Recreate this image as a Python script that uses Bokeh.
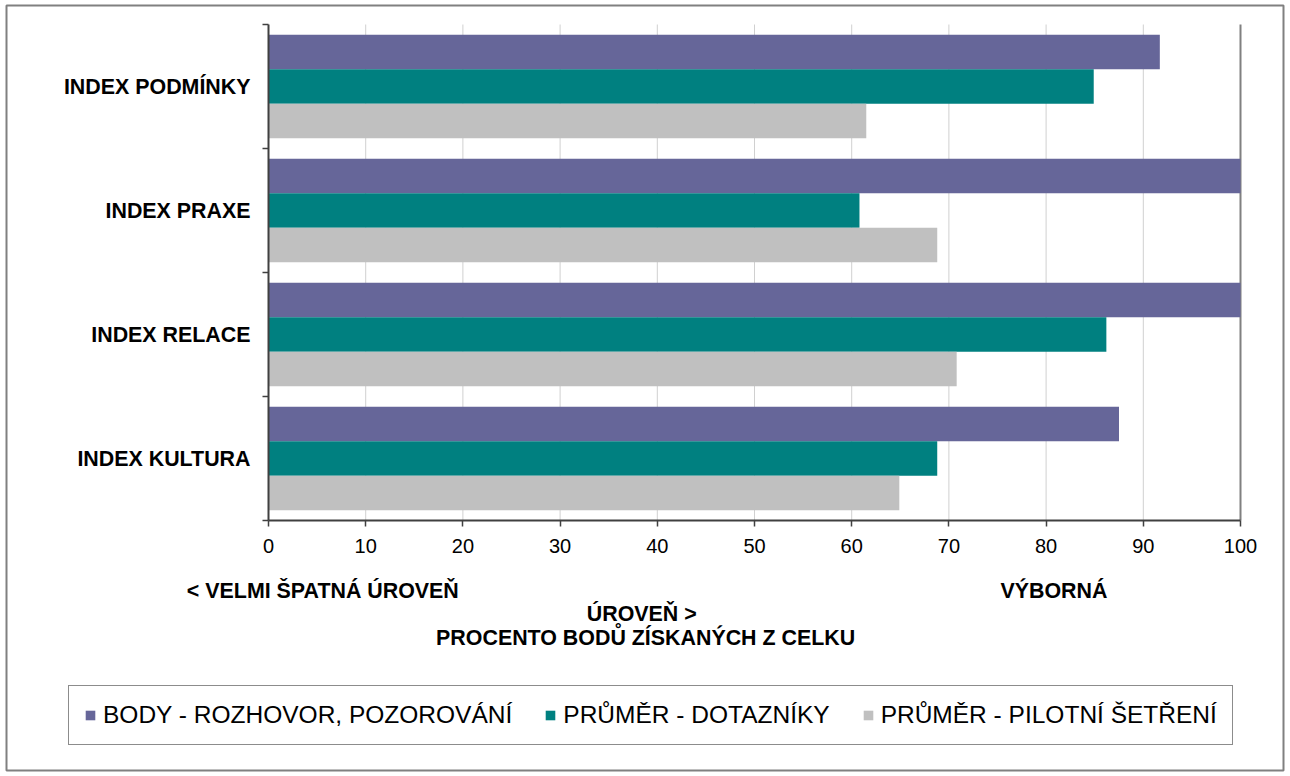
from bokeh.plotting import figure
from bokeh.models import ColumnDataSource, Range1d, FixedTicker, Label, Legend, LegendItem
from bokeh.embed import file_html
from bokeh.resources import INLINE

# ---------------- data ----------------
categories = ["INDEX PODMÍNKY", "INDEX PRAXE", "INDEX RELACE", "INDEX KULTURA"]
series_names = ["BODY - ROZHOVOR, POZOROVÁNÍ", "PRŮMĚR - DOTAZNÍKY", "PRŮMĚR - PILOTNÍ ŠETŘENÍ"]
body_rozhovor = [91.7, 100.0, 100.0, 87.5]
prumer_dotazniky = [84.9, 60.8, 86.2, 68.8]
prumer_pilotni = [61.5, 68.8, 70.8, 64.9]
x_ticks = [0, 10, 20, 30, 40, 50, 60, 70, 80, 90, 100]
axis_note_left = "< VELMI ŠPATNÁ ÚROVEŇ"
axis_note_right = "VÝBORNÁ"
axis_note_mid = "ÚROVEŇ >"
axis_title = "PROCENTO BODŮ ZÍSKANÝCH Z CELKU"

# ---------------- styles / layout ----------------
FONT = "Liberation Sans"
BOLD_SIZE = "21.4px"
colors = ["#666699", "#008080", "#C0C0C0"]
W, H = 1290, 776
n = len(categories)

# frame covers the whole chart box; value axis 0..100 spans px 268..1240,
# category axis spans px 24..520 (124 px per category)
px_per_x = 9.72
px_per_y = 124.0
x_start = (6 - 268) / px_per_x
x_end = (1283 - 268) / px_per_x
y_end = n + (24 - 5) / px_per_y
y_start = -(770 - 520) / px_per_y

p = figure(width=W, height=H, output_backend="svg", toolbar_location=None,
           x_range=Range1d(x_start, x_end), y_range=Range1d(y_start, y_end),
           min_border_left=6, min_border_right=7, min_border_top=5, min_border_bottom=6)
p.outline_line_color = "#808080"
p.outline_line_width = 2
p.background_fill_color = "white"
p.border_fill_color = "white"
p.xgrid.visible = False
p.ygrid.visible = False

# vertical gridlines limited to the plotting area
grid_src = ColumnDataSource(dict(x=x_ticks[1:-1]))
p.segment(x0="x", y0=0, x1="x", y1=n, source=grid_src, line_color="#d0d0d0", line_width=1)
edge_src = ColumnDataSource(dict(x=x_ticks[-1:]))
p.segment(x0="x", y0=0, x1="x", y1=n, source=edge_src, line_color="#808080", line_width=2)

centers = [n - i - 0.5 for i in range(n)]
bar_h = 0.278
offsets = [bar_h, 0.0, -bar_h]

renderers = []
for vals, off, col in zip([body_rozhovor, prumer_dotazniky, prumer_pilotni], offsets, colors):
    src = ColumnDataSource(dict(y=[c + off for c in centers], right=vals))
    r = p.hbar(y="y", left=0, right="right", height=bar_h, source=src,
               fill_color=col, line_color=None)
    renderers.append(r)

# x axis
xa = p.xaxis[0]
xa.fixed_location = 0
xa.bounds = (x_ticks[0], x_ticks[-1])
xa.ticker = FixedTicker(ticks=x_ticks)
xa.major_label_text_font = FONT
xa.major_label_text_font_size = "20px"
xa.major_label_text_color = "black"
xa.major_tick_out = 6
xa.major_tick_in = 0
xa.minor_tick_out = 0
xa.minor_tick_in = 0
xa.major_tick_line_color = "#404040"
xa.major_tick_line_width = 1.5
xa.axis_line_color = "#404040"
xa.axis_line_width = 2
xa.major_label_standoff = 12

# y axis
ya = p.yaxis[0]
ya.fixed_location = 0
ya.bounds = (0, n)
ya.ticker = FixedTicker(ticks=centers, minor_ticks=list(range(n + 1)))
ya.major_label_overrides = {c: cat for c, cat in zip(centers, categories)}
ya.major_label_text_font = FONT
ya.major_label_text_font_size = BOLD_SIZE
ya.major_label_text_font_style = "bold"
ya.major_label_text_color = "black"
ya.major_tick_out = 0
ya.major_tick_in = 0
ya.major_tick_line_color = None
ya.minor_tick_out = 6
ya.minor_tick_in = 0
ya.minor_tick_line_color = "#404040"
ya.minor_tick_line_width = 1.5
ya.axis_line_color = "#404040"
ya.axis_line_width = 2
ya.major_label_standoff = 12

# notes below the axis
def note(x, y, text, align):
    p.add_layout(Label(x=x, y=y, text=text, text_font=FONT, text_font_style="bold",
                       text_font_size=BOLD_SIZE, text_color="black",
                       text_align=align, text_baseline="middle"))

note(-8.4, -0.565, axis_note_left, "left")
note(75.3, -0.565, axis_note_right, "left")
note(38.4, -0.75, axis_note_mid, "center")
note(38.8, -0.944, axis_title, "center")

# legend
legend = Legend(items=[LegendItem(label=s, renderers=[r]) for s, r in zip(series_names, renderers)],
                orientation="horizontal", location=(62, 25),
                label_text_font=FONT, label_text_font_size="24.5px", label_text_color="black",
                glyph_width=12, glyph_height=12, label_standoff=7, spacing=32, padding=15,
                margin=0, border_line_color="#1a1a1a", border_line_width=1.5,
                background_fill_color="white", background_fill_alpha=1)
p.add_layout(legend, "center")

open("out.html", "w").write(file_html(p, INLINE))
